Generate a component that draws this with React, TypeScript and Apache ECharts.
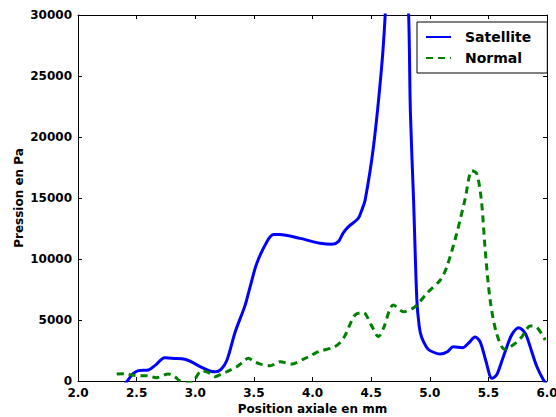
import React, { useEffect, useRef } from "react";
import * as echarts from "echarts";

const xTicks = [2.0, 2.5, 3.0, 3.5, 4.0, 4.5, 5.0, 5.5, 6.0];

const satelliteX = [
  2.38, 2.42, 2.47, 2.515, 2.6, 2.66, 2.74, 2.82, 2.91, 2.96, 3.055, 3.13, 3.17, 3.22, 3.27, 3.34,
  3.425, 3.47, 3.525, 3.61, 3.667, 3.72, 3.894, 4.065, 4.165, 4.22, 4.26, 4.307, 4.39, 4.42, 4.449,
  4.52, 4.59, 4.62, 4.66, 4.72, 4.78, 4.82, 4.835, 4.862, 4.89, 4.91, 4.93, 4.97, 5.0, 5.09, 5.15,
  5.2, 5.28, 5.33, 5.387, 5.43, 5.48, 5.53, 5.57, 5.61, 5.658, 5.7, 5.757, 5.8, 5.828, 5.87, 5.914,
  5.97, 6.0,
];
const satelliteY = [
  -500, 0, 600, 850, 900, 1300, 1900, 1850, 1780, 1600, 1120, 800, 760, 950, 1700, 4000,
  6200, 7800, 9650, 11400, 12000, 12000, 11690, 11290, 11200, 11420, 12100, 12650, 13330, 14000, 14840,
  19200, 25770, 30000, 38000, 42000, 38000, 30000, 22000, 14840, 6640, 4500, 3600, 2800, 2500, 2210, 2400,
  2800, 2730, 3100, 3600, 3200, 1600, 220, 490, 1500, 2810, 3800, 4370, 4100, 3630, 2400, 1170,
  80, -300,
];

const normalX = [
  2.33, 2.4, 2.458, 2.53, 2.6, 2.67, 2.77, 2.82, 2.87, 2.93, 2.98, 3.055, 3.11, 3.169, 3.22, 3.27,
  3.354, 3.4, 3.453, 3.5, 3.55, 3.638, 3.724, 3.82, 3.92, 3.98, 4.05, 4.19, 4.264, 4.363, 4.434, 4.5,
  4.562, 4.605, 4.69, 4.776, 4.875, 4.975, 5.09, 5.146, 5.23, 5.3, 5.36, 5.4, 5.44, 5.473, 5.515,
  5.57, 5.64, 5.73, 5.786, 5.857, 5.914, 5.985,
];
const normalY = [
  570, 600, 490, 430, 420, 270, 570, 400, 0, -150, -50, 840, 700, 350, 550, 760,
  1170, 1500, 1860, 1600, 1400, 1250, 1580, 1390, 1780, 2050, 2400, 2810, 3500, 5410, 5600, 4600,
  3630, 4320, 6230, 5680, 6090, 7190, 8280, 9370, 12100, 14840, 17240, 17020, 14840, 10740, 6640,
  3910, 2600, 3090, 3630, 4510, 4400, 3360,
];

const seriesNames = ["Satellite", "Normal"];

export default function App() {
  const ref = useRef<HTMLDivElement>(null);
  useEffect(() => {
    if (!ref.current) return;
    const chart = echarts.init(ref.current, undefined, { renderer: "svg" });
    const font = "DejaVu Sans";
    const axisCommon = {
      type: "value" as const,
      axisLine: { show: true, onZero: false, lineStyle: { color: "#000", width: 1 } },
      axisTick: { show: true, inside: true, length: 4, lineStyle: { color: "#000" } },
      splitLine: { show: false },
    };
    chart.setOption({
      animation: false,
      backgroundColor: "#fff",
      textStyle: { fontFamily: font },
      grid: { left: 78, right: 9, top: 15, bottom: 36, containLabel: false, outerBoundsMode: "none" },
      legend: {
        left: 417,
        top: 22,
        orient: "vertical",
        data: seriesNames,
        borderColor: "#000",
        borderWidth: 1,
        backgroundColor: "#fff",
        padding: [8, 16, 8, 8],
        itemWidth: 25,
        itemHeight: 14,
        itemGap: 7,
        itemStyle: { opacity: 0 },
        textStyle: { fontFamily: font, fontWeight: "bold", fontSize: 14, color: "#000", padding: [0, 0, 0, 9] },
      },
      xAxis: [
        {
          ...axisCommon,
          min: 2,
          max: 6,
          interval: 0.5,
          position: "bottom",
          name: "Position axiale en mm",
          nameLocation: "middle",
          nameGap: 22,
          nameMoveOverlap: false,
          nameTextStyle: { fontFamily: font, fontWeight: "bold", fontSize: 12, color: "#000" },
          axisLabel: {
            fontFamily: font,
            fontWeight: "bold",
            fontSize: 12,
            color: "#000",
            margin: 6,
            formatter: (v: number) => v.toFixed(1),
          },
        },
        {
          ...axisCommon,
          min: 2,
          max: 6,
          interval: 0.5,
          position: "top",
          axisLabel: { show: false },
        },
      ],
      yAxis: [
        {
          ...axisCommon,
          min: 0,
          max: 30000,
          interval: 5000,
          position: "left",
          name: "Pression en Pa",
          nameLocation: "middle",
          nameGap: 53,
          nameMoveOverlap: false,
          nameTextStyle: { fontFamily: font, fontWeight: "bold", fontSize: 12, color: "#000" },
          axisLabel: {
            fontFamily: font,
            fontWeight: "bold",
            fontSize: 12,
            color: "#000",
            margin: 6,
            formatter: (v: number) => String(v),
          },
        },
        {
          ...axisCommon,
          min: 0,
          max: 30000,
          interval: 5000,
          position: "right",
          axisLabel: { show: false },
        },
      ],
      series: [
        {
          name: seriesNames[0],
          type: "line",
          xAxisIndex: 0,
          yAxisIndex: 0,
          data: satelliteX.map((x, i) => [x, satelliteY[i]]),
          showSymbol: false,
          symbol: "none",
          smooth: 0.3,
          clip: true,
          lineStyle: { color: "#0000ff", width: 3 },
          itemStyle: { color: "#0000ff" },
        },
        {
          name: seriesNames[1],
          type: "line",
          xAxisIndex: 0,
          yAxisIndex: 0,
          data: normalX.map((x, i) => [x, normalY[i]]),
          showSymbol: false,
          symbol: "none",
          smooth: 0.3,
          clip: true,
          lineStyle: { color: "#008000", width: 3, type: [7, 5] },
          itemStyle: { color: "#008000" },
        },
      ],
    });
    return () => chart.dispose();
  }, []);
  return <div ref={ref} style={{ width: 556, height: 417, position: "absolute", left: 0, top: 0 }} />;
}
